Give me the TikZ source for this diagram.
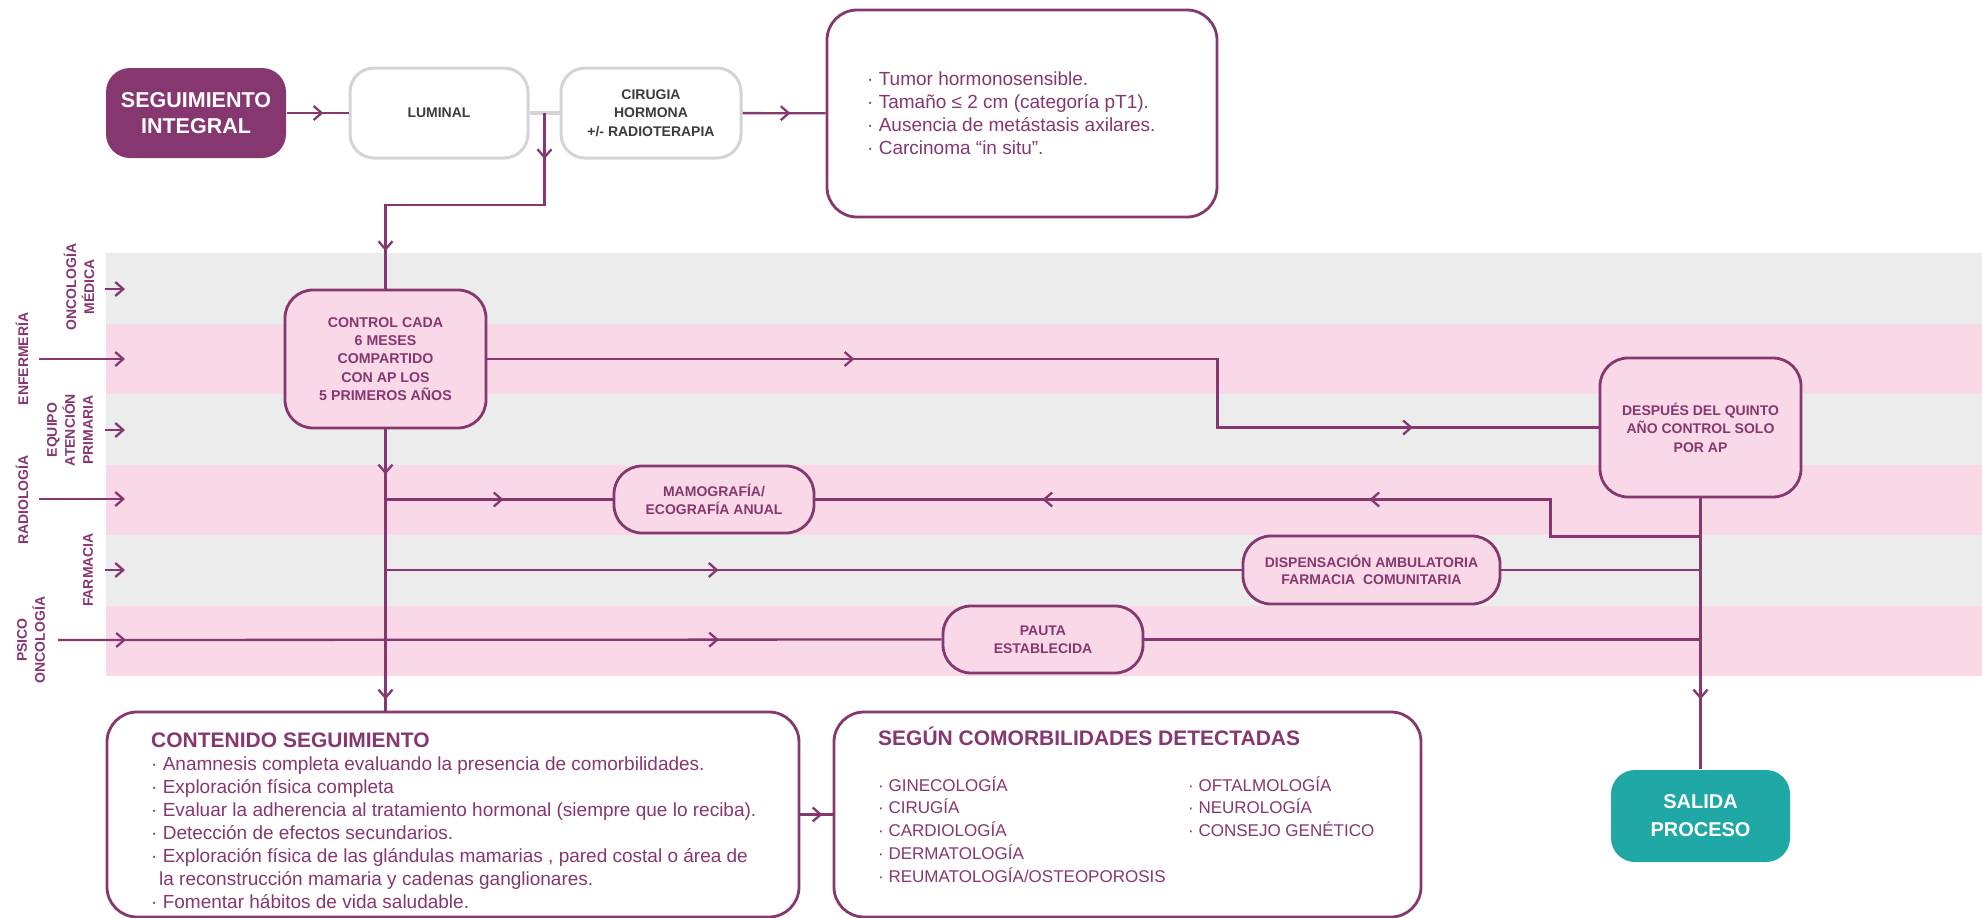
\documentclass[tikz,border=0pt]{standalone}
\usepackage{fontspec}
\setmainfont{Liberation Sans}
\usetikzlibrary{arrows.meta,decorations.markings,calc}

\definecolor{plum}{HTML}{86376F}
\definecolor{exitteal}{HTML}{1FA8A5}
\definecolor{laneGray}{HTML}{ECECEC}
\definecolor{lanePink}{HTML}{F9D9E8}
\definecolor{boxGray}{HTML}{D4D4D4}
\definecolor{inkGray}{HTML}{3C3C3C}

\tikzset{
  flow/.style={draw=plum, line width=2.3pt},
  chev/.style={postaction={decorate, decoration={markings,
      mark=at position #1 with {\arrow{Straight Barb[length=8pt,width=14pt]}}}}},
  inarrow/.style={flow, -{Straight Barb[length=8pt,width=14pt]}},
  box/.style={rectangle, rounded corners=28pt, inner sep=0pt, align=center, line width=2.8pt},
  stepbox/.style={box, draw=plum, fill=lanePink, text=plum,
      font=\bfseries\fontsize{14}{18}\selectfont},
  greybox/.style={box, draw=boxGray, line width=3pt, fill=white, text=inkGray,
      rounded corners=24pt, font=\bfseries\fontsize{14}{18.5}\selectfont},
  notebox/.style={box, draw=plum, fill=white, rounded corners=30pt},
  lanelabel/.style={rotate=90, align=center, text=plum, inner sep=0pt,
      font=\bfseries\fontsize{14}{18}\selectfont},
  bodytext/.style={anchor=base west, inner sep=0pt, text=plum},
}

\begin{document}
\begin{tikzpicture}[x=1pt, y=-1pt]
\useasboundingbox (0,0) rectangle (1982,918);
\fill[white] (0,0) rectangle (1982,918);

% swimlane bands
\fill[laneGray] (106,253) rectangle (1982,324);
\fill[lanePink] (106,324) rectangle (1982,394);
\fill[laneGray] (106,394) rectangle (1982,465);
\fill[lanePink] (106,465) rectangle (1982,535);
\fill[laneGray] (106,535) rectangle (1982,606);
\fill[lanePink] (106,606) rectangle (1982,676);

% lane labels
\node[lanelabel] (lOnc) at (79,287) {ONCOLOGÍA\\MÉDICA};
\node[lanelabel] (lEnf) at (22,359) {ENFERMERÍA};
\node[lanelabel] (lEq)  at (70,430) {EQUIPO\\ATENCIÓN\\PRIMARIA};
\node[lanelabel] (lRad) at (22,500) {RADIOLOGÍA};
\node[lanelabel] (lFar) at (88,570) {FARMACIA};
\node[lanelabel] (lPsi) at (31,640) {PSICO\\ONCOLOGÍA};

% top row
\node[box, fill=plum, text=white, rounded corners=24pt,
      font=\bfseries\fontsize{21.5}{26}\selectfont,
      minimum width=180pt, minimum height=90pt] (seg) at (196,113) {SEGUIMIENTO\\INTEGRAL};
\node[greybox, minimum width=178pt, minimum height=90pt] (lum) at (439,113) {LUMINAL};
\node[greybox, minimum width=180pt, minimum height=90pt] (cir) at (651,113) {CIRUGIA\\HORMONA\\+/- RADIOTERAPIA};
\node[notebox, minimum width=390pt, minimum height=207pt] (tumor) at (1022,113.5) {};
\node[bodytext, font=\fontsize{19}{23}\selectfont] (tumorText) at (867,85)
  {\parbox[t]{330pt}{\raggedright · Tumor hormonosensible.\\ · Tamaño ≤ 2 cm (categoría pT1).\\ · Ausencia de metástasis axilares.\\ · Carcinoma “in situ”.}};

% process steps inside the lanes
\node[stepbox, minimum width=201pt, minimum height=138pt,
      font=\bfseries\fontsize{14.2}{18.3}\selectfont] (control) at (385.5,359)
  {CONTROL CADA\\6 MESES\\COMPARTIDO\\CON AP LOS\\5 PRIMEROS AÑOS};
\node[stepbox, minimum width=200pt, minimum height=67pt] (mamo) at (714,499.5) {MAMOGRAFÍA/\\ECOGRAFÍA ANUAL};
\node[stepbox, minimum width=201pt, minimum height=139pt,
      font=\bfseries\fontsize{14}{18.5}\selectfont] (despues) at (1700.5,427.5)
  {DESPUÉS DEL QUINTO\\AÑO CONTROL SOLO\\POR AP};
\node[stepbox, minimum width=257pt, minimum height=68pt,
      font=\bfseries\fontsize{14}{17.5}\selectfont] (disp) at (1371.5,570)
  {DISPENSACIÓN AMBULATORIA\\FARMACIA\ \ COMUNITARIA};
\node[stepbox, minimum width=200pt, minimum height=67pt,
      font=\bfseries\fontsize{14}{17.5}\selectfont] (pauta) at (1043,639.5) {PAUTA\\ESTABLECIDA};

% bottom row
\node[notebox, minimum width=692pt, minimum height=205pt] (cont) at (453,814.5) {};
\node[bodytext, font=\fontsize{19}{23}\selectfont] (contText) at (151,747)
  {\parbox[t]{640pt}{\raggedright{\bfseries\fontsize{21}{23}\selectfont CONTENIDO SEGUIMIENTO}\\
   · Anamnesis completa evaluando la presencia de comorbilidades.\\
   · Exploración física completa\\
   · Evaluar la adherencia al tratamiento hormonal (siempre que lo reciba).\\
   · Detección de efectos secundarios.\\
   · Exploración física de las glándulas mamarias , pared costal o área de\\
   \hspace*{8pt}la reconstrucción mamaria y cadenas ganglionares.\\
   · Fomentar hábitos de vida saludable.}};

\node[notebox, minimum width=587pt, minimum height=205pt] (segun) at (1127.5,814.5) {};
\node[bodytext, font=\bfseries\fontsize{21}{23}\selectfont] (segTitle) at (878,745.5) {SEGÚN COMORBILIDADES DETECTADAS};
\node[bodytext, font=\fontsize{17}{22.8}\selectfont] (segCol1) at (878,791)
  {\parbox[t]{300pt}{\raggedright · GINECOLOGÍA\\ · CIRUGÍA\\ · CARDIOLOGÍA\\ · DERMATOLOGÍA\\ · REUMATOLOGÍA/OSTEOPOROSIS}};
\node[bodytext, font=\fontsize{17}{22.8}\selectfont] (segCol2) at (1188,791)
  {\parbox[t]{200pt}{\raggedright · OFTALMOLOGÍA\\ · NEUROLOGÍA\\ · CONSEJO GENÉTICO}};

\node[box, fill=exitteal, text=white, rounded corners=24pt,
      font=\bfseries\fontsize{20}{28}\selectfont,
      minimum width=179pt, minimum height=92pt] (salida) at (1700.5,816) {SALIDA\\PROCESO};

% helper points
\coordinate (split) at ($(lum.east)!0.5!(cir.west)$);
\coordinate (jr) at ($(despues.south)+(0,38)$);
\coordinate (inOnc) at (105,289); \coordinate (toOnc) at (125,289);
\coordinate (inEnf) at (39,359);  \coordinate (toEnf) at (125,359);
\coordinate (inEq)  at (105,430); \coordinate (toEq)  at (125,430);
\coordinate (inRad) at (39,499);  \coordinate (toRad) at (125,499);
\coordinate (inFar) at (105,570); \coordinate (toFar) at (125,570);
\coordinate (inPsi) at (58,640);

% connectors
\draw[flow, chev=36pt] (seg) -- (lum);
\draw[draw=boxGray, line width=3.2pt] (lum) -- (cir);
\draw[flow, chev=48pt] (cir) -- (tumor);
\draw[flow, chev=46pt, chev=297pt] (split) -- ++(0,92) -| (control.north);
\draw[flow, chev=367pt, chev=994pt] (control.east) -- ++(730,0) |- (despues.west);
\draw[flow, chev=45pt, chev=270pt] (control.south) -- (control.south |- cont.north);
\draw[flow, chev=118pt] (control.south |- mamo.west) -- (mamo.west);
\draw[flow, chev=333pt] (control.south |- disp.west) -- (disp.west);
\draw[flow, chev=68pt, chev=661pt] (inPsi) -- (pauta.west);
\draw[flow, chev=201pt] (despues) -- (salida);
\draw[flow, chev=368pt, chev=695pt] (jr) -- ++(-150,0) |- (mamo.east);
\draw[flow] (disp.east) -- (despues.south |- disp.east);
\draw[flow] (pauta.east) -- (despues.south |- pauta.east);
\draw[flow, chev=22pt] (cont) -- (segun);

% lane entry arrows
\draw[inarrow] (inOnc) -- (toOnc);
\draw[inarrow] (inEnf) -- (toEnf);
\draw[inarrow] (inEq) -- (toEq);
\draw[inarrow] (inRad) -- (toRad);
\draw[inarrow] (inFar) -- (toFar);
\end{tikzpicture}
\end{document}
